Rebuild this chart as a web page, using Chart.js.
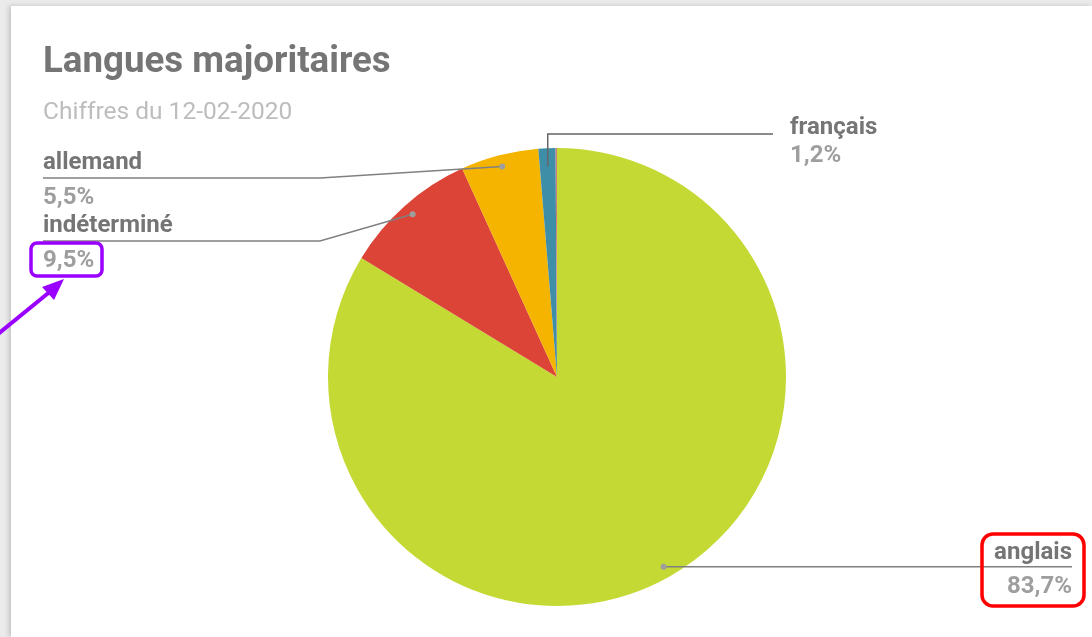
<!DOCTYPE html>
<html><head><meta charset="utf-8">
<script src="https://cdn.jsdelivr.net/npm/chart.js@4"></script>
<style>
html,body{margin:0;padding:0;width:1092px;height:637px;overflow:hidden;background:#ebebeb;}
#card{position:absolute;left:11px;top:6px;right:0;bottom:0;background:#fff;box-shadow:-2px 0 5px rgba(0,0,0,0.18);}
canvas{position:absolute;left:0;top:0;}
</style></head><body>
<div id="card"></div>
<canvas id="c" width="1092" height="637"></canvas>
<script>
const title = 'Langues majoritaires';
const subtitle = 'Chiffres du 12-02-2020';
const categories = ['anglais', 'indéterminé', 'allemand', 'français', 'autre'];
const values = [83.7, 9.5, 5.5, 1.2, 0.1];
const valueLabels = ['83,7%', '9,5%', '5,5%', '1,2%', ''];
const colors = ['#c5d934', '#db4437', '#f4b400', '#3f8ea8', '#c77f86'];

// label layout (positions of outside labels)
const labelLayout = {
  0: {kind: 'right', x: 1072, lineY: 567},
  1: {kind: 'left', x: 43, lineY: 241, elbowX: 320},
  2: {kind: 'left', x: 43, lineY: 178, elbowX: 320},
  3: {kind: 'top', x: 790, lineY: 134, endX: 773}
};

const labelsPlugin = {
  id: 'outLabels',
  afterDraw(chart) {
    const ctx = chart.ctx;
    const meta = chart.getDatasetMeta(0);
    ctx.save();
    // title
    ctx.fillStyle = '#757575';
    ctx.font = 'bold 36.7px Roboto';
    ctx.textBaseline = 'alphabetic';
    ctx.textAlign = 'left';
    ctx.fillText(title, 43, 72);
    ctx.fillStyle = '#bdbdbd';
    ctx.font = '24.5px Roboto';
    ctx.fillText(subtitle, 43, 119);

    Object.keys(labelLayout).forEach(k => {
      const i = +k;
      const L = labelLayout[i];
      const arc = meta.data[i];
      const p = arc.getProps(['x', 'y', 'startAngle', 'endAngle', 'outerRadius'], true);
      const mid = (p.startAngle + p.endAngle) / 2;
      const rr = p.outerRadius * (L.kind === 'top' ? 0.92 : 0.95);
      const dx = p.x + Math.cos(mid) * rr;
      const dy = p.y + Math.sin(mid) * rr;
      ctx.strokeStyle = '#808080';
      ctx.lineWidth = 1.5;
      ctx.beginPath();
      if (L.kind === 'right') {
        ctx.moveTo(dx, dy); ctx.lineTo(L.x, dy);
      } else if (L.kind === 'left') {
        ctx.moveTo(dx, dy); ctx.lineTo(L.elbowX, L.lineY); ctx.lineTo(L.x, L.lineY);
      } else {
        ctx.strokeStyle = '#666';
        ctx.moveTo(dx, dy); ctx.lineTo(dx, L.lineY); ctx.lineTo(L.endX, L.lineY);
      }
      ctx.stroke();
      if (L.kind !== 'top') {
        ctx.fillStyle = '#9e9e9e';
        ctx.beginPath(); ctx.arc(dx, dy, 3, 0, Math.PI * 2); ctx.fill();
      }
      // texts
      const nameFont = 'bold 24px Roboto';
      const valFont = 'bold 24px Roboto';
      ctx.font = nameFont;
      ctx.fillStyle = '#757575';
      if (L.kind === 'right') {
        ctx.textAlign = 'right';
        ctx.fillText(categories[i], L.x, L.lineY - 8);
        ctx.font = valFont; ctx.fillStyle = '#9e9e9e';
        ctx.fillText(valueLabels[i], L.x, L.lineY + 26);
      } else if (L.kind === 'left') {
        ctx.textAlign = 'left';
        ctx.fillText(categories[i], L.x, L.lineY - 9);
        ctx.font = valFont; ctx.fillStyle = '#9e9e9e';
        ctx.fillText(valueLabels[i], L.x, L.lineY + 26);
      } else {
        ctx.textAlign = 'left';
        ctx.fillText(categories[i], L.x, L.lineY);
        ctx.font = valFont; ctx.fillStyle = '#9e9e9e';
        ctx.fillText(valueLabels[i], L.x, L.lineY + 28);
      }
    });

    // annotations
    function rrect(x, y, w, h, r) {
      ctx.beginPath();
      ctx.moveTo(x + r, y); ctx.lineTo(x + w - r, y); ctx.arcTo(x + w, y, x + w, y + r, r);
      ctx.lineTo(x + w, y + h - r); ctx.arcTo(x + w, y + h, x + w - r, y + h, r);
      ctx.lineTo(x + r, y + h); ctx.arcTo(x, y + h, x, y + h - r, r);
      ctx.lineTo(x, y + r); ctx.arcTo(x, y, x + r, y, r);
      ctx.closePath(); ctx.stroke();
    }
    ctx.lineWidth = 3.5;
    ctx.strokeStyle = '#ff0000';
    rrect(982, 534, 102, 72, 11);
    ctx.strokeStyle = '#9900ff';
    rrect(31, 243, 71, 33, 6);
    // arrow
    ctx.lineWidth = 4;
    ctx.beginPath(); ctx.moveTo(-2, 334); ctx.lineTo(52, 290); ctx.stroke();
    ctx.fillStyle = '#9900ff';
    ctx.beginPath();
    ctx.moveTo(64, 279); ctx.lineTo(42, 287); ctx.lineTo(54, 300); ctx.closePath(); ctx.fill();
    ctx.restore();
  }
};

new Chart(document.getElementById('c'), {
  type: 'pie',
  data: {
    labels: categories,
    datasets: [{data: values, backgroundColor: colors, borderWidth: 0}]
  },
  options: {
    responsive: false,
    animation: false,
    devicePixelRatio: 1,
    layout: {padding: {left: 300, right: 278, top: 148, bottom: 31}},
    plugins: {legend: {display: false}, tooltip: {enabled: false}}
  },
  plugins: [labelsPlugin]
});
</script>
</body></html>
